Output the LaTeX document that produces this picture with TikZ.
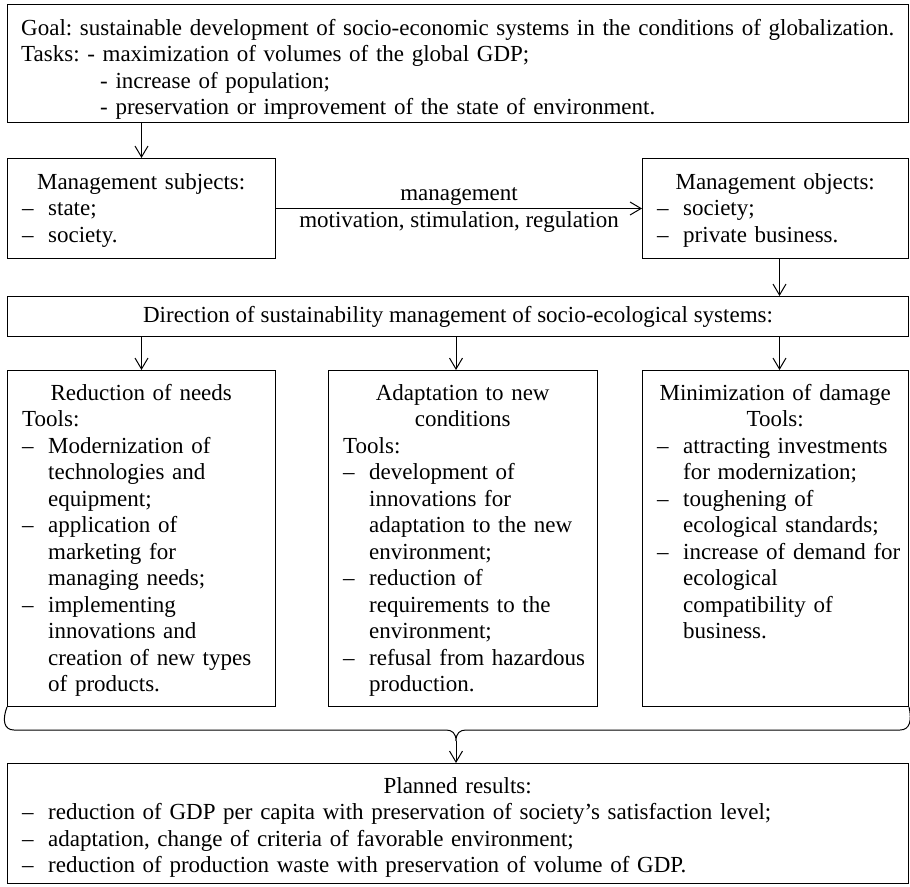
\documentclass[tikz,border=0pt]{standalone}
\usepackage{fontspec}
\setmainfont{Liberation Serif}
\usetikzlibrary{arrows.meta,positioning,calc}
\frenchspacing

\newcommand{\dl}[1]{\makebox[26pt][l]{--}\mbox{#1}}
\newcommand{\cl}[1]{\hspace*{26pt}\mbox{#1}}
\newcommand{\hd}[1]{\makebox[\linewidth]{#1}}

\begin{document}
\begin{tikzpicture}[x=1pt, y=-1pt,
  every node/.style={font=\fontsize{23}{26.5}\selectfont},
  frm/.style={draw, line width=1pt, anchor=north west, inner sep=0pt},
  txt/.style={anchor=base west, inner sep=0pt, align=left},
  lbl/.style={inner sep=3pt},
  ln/.style={line width=1pt},
  arr/.style={-{Straight Barb[length=11pt,width=13pt]}, line width=1pt}]
\useasboundingbox (0,0) rectangle (910,886);
% Goal and tasks
\node[frm, minimum width=901pt, minimum height=118pt] (goal) at (7,4) {};
\node[txt, text width=871pt] (goaltx) at (21,35) {\mbox{Goal: sustainable development of socio-economic systems in the conditions of globalization.}\\
\mbox{Tasks: - maximization of volumes of the global GDP;}\\
\hspace*{79pt}\mbox{- increase of population;}\\
\hspace*{79pt}\mbox{- preservation or improvement of the state of environment.}};
% Subjects and objects
\node[frm, minimum width=268pt, minimum height=100pt] (sub) at (7,158) {};
\node[txt, text width=238pt] (subtx) at (22,189) {\hd{Management subjects:}\\\dl{state;}\\\dl{society.}};
\node[frm, minimum width=266pt, minimum height=100pt] (obj) at (642,158) {};
\node[txt, text width=236pt] (objtx) at (657,189) {\hd{Management objects:}\\\dl{society;}\\\dl{private business.}};
\draw[arr] (sub.north |- goal.south) -- (sub.north);
\draw[arr] (sub) -- (obj) node[lbl, midway, above] (mg) {management} node[lbl, midway, below] (mt) {motivation, stimulation, regulation};
% Directions
\node[frm, minimum width=901pt, minimum height=40pt] (dir) at (7,296) {Direction of sustainability management of socio-ecological systems:};
\draw[arr] ([xshift=4pt]obj.south) -- ([xshift=4pt]obj.south |- dir.north);
\node[frm, minimum width=268pt, minimum height=336pt] (lb) at (7,370) {};
\node[frm, minimum width=269pt, minimum height=336pt] (mb) at (328,370) {};
\node[frm, minimum width=266pt, minimum height=336pt] (rb) at (642,370) {};
\draw[arr] (lb.north |- dir.south) -- (lb.north);
\draw[arr] ([xshift=-7pt]mb.north |- dir.south) -- ([xshift=-7pt]mb.north);
\draw[arr] ([xshift=4pt]rb.north |- dir.south) -- ([xshift=4pt]rb.north);
\node[txt, text width=238pt] (lbtx) at (22,400) {\hd{Reduction of needs}\\Tools:\\
\dl{Modernization of}\\\cl{technologies and}\\\cl{equipment;}\\
\dl{application of}\\\cl{marketing for}\\\cl{managing needs;}\\
\dl{implementing}\\\cl{innovations and}\\\cl{creation of new types}\\\cl{of products.}};
\node[txt, text width=239pt] (mbtx) at (343,400) {\hd{Adaptation to new}\\\hd{conditions}\\Tools:\\
\dl{development of}\\\cl{innovations for}\\\cl{adaptation to the new}\\\cl{environment;}\\
\dl{reduction of}\\\cl{requirements to the}\\\cl{environment;}\\
\dl{refusal from hazardous}\\\cl{production.}};
\node[txt, text width=236pt] (rbtx) at (657,400) {\hd{Minimization of damage}\\\hd{Tools:}\\
\dl{attracting investments}\\\cl{for modernization;}\\
\dl{toughening of}\\\cl{ecological standards;}\\
\dl{increase of demand for}\\\cl{ecological}\\\cl{compatibility of}\\\cl{business.}};
% Brace and results
\coordinate (tip) at (456,741);
\draw[ln] (lb.south west) .. controls (2,720) and (4,730) .. (14,730) -- (446,730)
  .. controls (452,730) and (456,733) .. (tip) .. controls (456,733) and (460,730) .. (466,730)
  -- (900,730) .. controls (910,730) and (912,720) .. (rb.south east);
\node[frm, minimum width=901pt, minimum height=120pt] (res) at (7,763) {};
\draw[arr] (tip) -- (tip |- res.north);
\node[txt, text width=871pt] (restx) at (22,793) {\hd{Planned results:}\\
\dl{reduction of GDP per capita with preservation of society's satisfaction level;}\\
\dl{adaptation, change of criteria of favorable environment;}\\
\dl{reduction of production waste with preservation of volume of GDP.}};
\end{tikzpicture}
\end{document}
